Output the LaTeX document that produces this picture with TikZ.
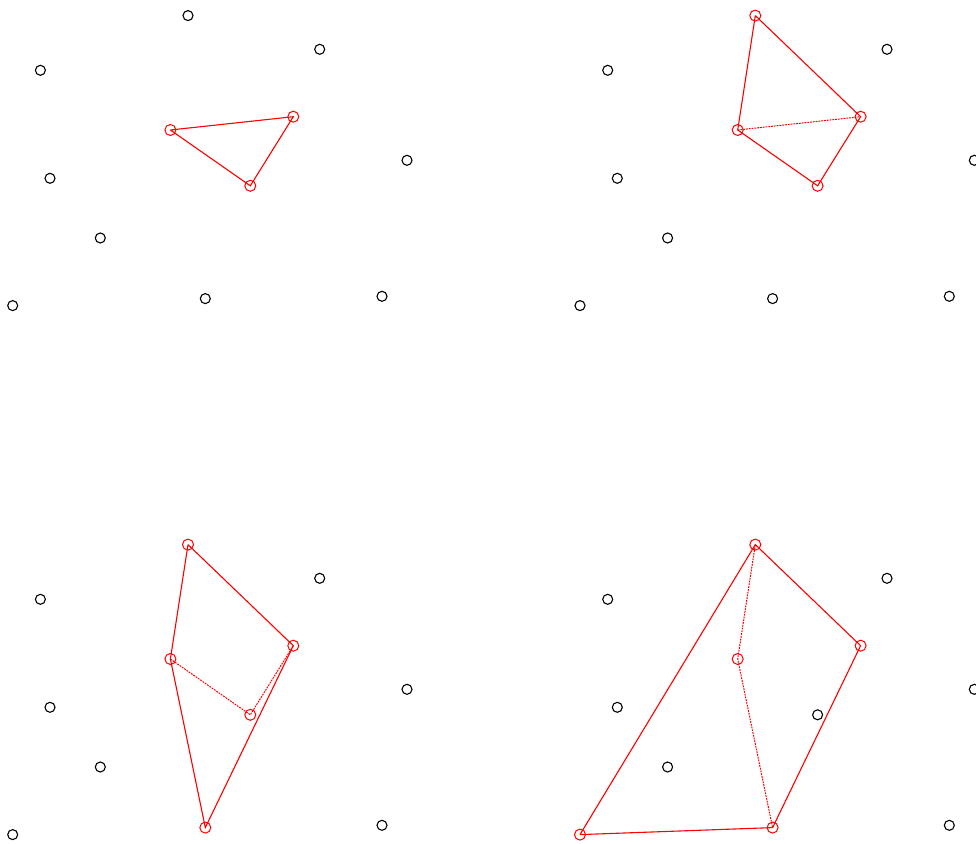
\documentclass[tikz,border=0pt]{standalone}
\begin{document}
\begin{tikzpicture}[x=1pt,y=-1pt,
 pt/.style={circle,draw=black,line width=1.1pt,minimum size=10pt,inner sep=0pt},
 rpt/.style={circle,draw=red,line width=1pt,minimum size=11pt,inner sep=0pt},
 edge/.style={red,line width=1.1pt},
 dedge/.style={red,line width=1pt,dash pattern=on 1.8pt off 1pt}]
\useasboundingbox (0,0) rectangle (976,843);
% Panel 1
\begin{scope}
\node[pt]  (aA) at (188,15.6) {};
\node[pt]  (aB) at (319.7,49.3) {};
\node[pt]  (aC) at (40.4,70.3) {};
\node[rpt] (aD) at (170.4,130) {};
\node[rpt] (aE) at (293.3,116.7) {};
\node[rpt] (aF) at (250.3,185.8) {};
\node[pt]  (aG) at (50,178.3) {};
\node[pt]  (aH) at (100.3,238) {};
\node[pt]  (aI) at (12.7,305.6) {};
\node[pt]  (aJ) at (205.3,298.6) {};
\node[pt]  (aK) at (407,160.3) {};
\node[pt]  (aL) at (382,296.3) {};
\draw[edge] (aD.center) -- (aE.center) -- (aF.center) -- (aD.center);
\end{scope}
% Panel 2
\begin{scope}[shift={(567.3,0)}]
\node[rpt] (bA) at (188,15.6) {};
\node[pt]  (bB) at (319.7,49.3) {};
\node[pt]  (bC) at (40.4,70.3) {};
\node[rpt] (bD) at (170.4,130) {};
\node[rpt] (bE) at (293.3,116.7) {};
\node[rpt] (bF) at (250.3,185.8) {};
\node[pt]  (bG) at (50,178.3) {};
\node[pt]  (bH) at (100.3,238) {};
\node[pt]  (bI) at (12.7,305.6) {};
\node[pt]  (bJ) at (205.3,298.6) {};
\node[pt]  (bK) at (407,160.3) {};
\node[pt]  (bL) at (382,296.3) {};
\draw[edge] (bA.center) -- (bE.center) -- (bF.center) -- (bD.center) -- (bA.center);
\draw[dedge] (bD.center) -- (bE.center);
\end{scope}
% Panel 3
\begin{scope}[shift={(0,529)}]
\node[rpt] (cA) at (188,15.6) {};
\node[pt]  (cB) at (319.7,49.3) {};
\node[pt]  (cC) at (40.4,70.3) {};
\node[rpt] (cD) at (170.4,130) {};
\node[rpt] (cE) at (293.3,116.7) {};
\node[rpt] (cF) at (250.3,185.8) {};
\node[pt]  (cG) at (50,178.3) {};
\node[pt]  (cH) at (100.3,238) {};
\node[pt]  (cI) at (12.7,305.6) {};
\node[rpt] (cJ) at (205.3,298.6) {};
\node[pt]  (cK) at (407,160.3) {};
\node[pt]  (cL) at (382,296.3) {};
\draw[edge] (cA.center) -- (cE.center) -- (cJ.center) -- (cD.center) -- (cA.center);
\draw[dedge] (cD.center) -- (cF.center) -- (cE.center);
\end{scope}
% Panel 4
\begin{scope}[shift={(567.3,529)}]
\node[rpt] (dA) at (188,15.6) {};
\node[pt]  (dB) at (319.7,49.3) {};
\node[pt]  (dC) at (40.4,70.3) {};
\node[rpt] (dD) at (170.4,130) {};
\node[rpt] (dE) at (293.3,116.7) {};
\node[pt]  (dF) at (250.3,185.8) {};
\node[pt]  (dG) at (50,178.3) {};
\node[pt]  (dH) at (100.3,238) {};
\node[rpt] (dI) at (12.7,305.6) {};
\node[rpt] (dJ) at (205.3,298.6) {};
\node[pt]  (dK) at (407,160.3) {};
\node[pt]  (dL) at (382,296.3) {};
\draw[edge] (dI.center) -- (dA.center) -- (dE.center) -- (dJ.center) -- (dI.center);
\draw[dedge] (dA.center) -- (dD.center) -- (dJ.center);
\end{scope}
\end{tikzpicture}
\end{document}
